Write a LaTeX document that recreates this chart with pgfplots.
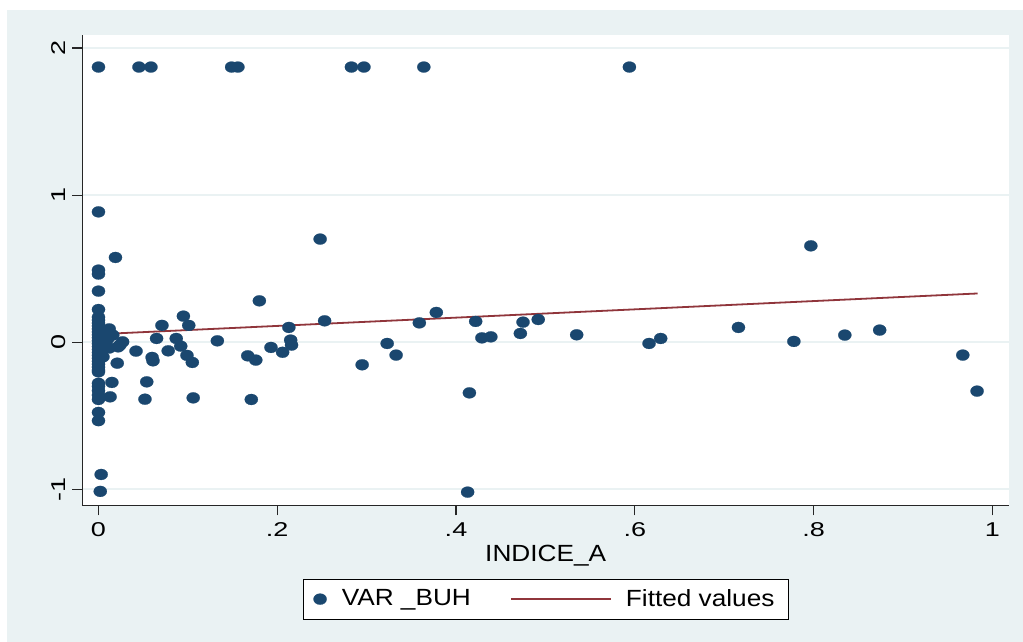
\documentclass[border=0pt]{standalone}
\usepackage{fontspec}
\setmainfont{Liberation Sans}[FakeStretch=1.12]
\newfontfamily\tickfont{Liberation Sans}[FakeStretch=1.35]
\usepackage{pgfplots}
\usepackage{pgfplotstable}
\pgfplotsset{compat=1.18}
\definecolor{bgc}{HTML}{EAF2F3}
\definecolor{navy}{HTML}{1A476F}
\definecolor{maroon}{HTML}{90353B}
\pgfplotsset{
  dotlegend/.style={legend image code/.code={\path[draw=none] (0pt,0pt) -- (19.35pt,0pt); \draw[mark repeat=2,mark phase=2,#1] plot coordinates {(0pt,0pt) (8.5pt,0pt) (19.35pt,0pt)};}},
  linelegend/.style={legend image code/.code={\path[draw=none] (0pt,0pt) -- (77.5pt,0pt); \draw[#1] (20.15pt,0pt) -- (70pt,0pt);}},
}
\pgfplotstableread{
x y
0 1.871
0.0453 1.871
0.0587 1.871
0.149 1.871
0.156 1.871
0.283 1.871
0.297 1.871
0.364 1.871
0.594 1.871
0 0.886
0.019 0.576
0 0.490
0 0.463
0 0.347
0 0.222
0 0.17
0 0.15
0 0.13
0 0.11
0 0.09
0 0.07
0 0.05
0 0.03
0 0.01
0 -0.01
0 -0.03
0 -0.05
0 -0.07
0 -0.09
0 -0.11
0 -0.13
0 -0.15
0 -0.17
0 -0.19
0.005 0.08
0.012 0.09
0.008 0.05
0.012 0.04
0.010 0.02
0.006 -0.02
0.012 -0.04
0.005 -0.10
0.016 0.048
0.027 0.002
0.024 -0.020
0.022 -0.032
0.021 -0.143
0.042 -0.061
0.065 0.025
0.071 0.114
0.060 -0.104
0.061 -0.127
0.078 -0.059
0.087 0.025
0.092 -0.027
0.095 0.177
0.101 0.114
0.099 -0.090
0.105 -0.138
0.133 0.009
0.180 0.281
0.167 -0.093
0.176 -0.122
0.193 -0.036
0.206 -0.069
0.213 0.100
0.215 0.014
0.216 -0.020
0.248 0.701
0.253 0.145
0.295 -0.154
0.323 -0.009
0.333 -0.088
0.359 0.131
0.378 0.202
0.415 -0.345
0.422 0.141
0.429 0.029
0.439 0.036
0.472 0.059
0.475 0.136
0.492 0.154
0.535 0.050
0.413 -1.020
0.616 -0.009
0.629 0.025
0.716 0.100
0.778 0.005
0.797 0.655
0.835 0.048
0.874 0.082
0.967 -0.088
0.983 -0.333
0 -0.202
0 -0.28
0 -0.30
0 -0.33
0 -0.36
0 -0.39
0 -0.478
0 -0.534
0.003 -0.90
0.002 -1.015
0.015 -0.274
0.054 -0.270
0.013 -0.372
0.052 -0.388
0.106 -0.379
0.171 -0.390
}\scatterdata
\begin{document}
\begin{tikzpicture}[x=0.5pt,y=0.5pt]
\useasboundingbox (0,0) rectangle (1023,642);
\fill[white] (0,0) rectangle (1023,642);
\fill[bgc] (7,0) rectangle (1023,632);
\begin{axis}[
  at={(41.15pt,68.25pt)}, anchor=south west,
  scale only axis, width=463.35pt, height=235.25pt,
  xmin=-0.0181, xmax=1.0187, ymin=-1.111, ymax=2.089,
  axis x line*=bottom, axis y line*=left,
  axis background/.style={fill=white},
  tick align=outside, major tick length=5pt,
  xtick={0,0.2,0.4,0.6,0.8,1}, xticklabels={0,.2,.4,.6,.8,1},
  ytick={-1,0,1,2}, yticklabels={-1,0,1,2},
  minor tick num=0,
  ymajorgrids, major grid style={bgc, line width=1pt},
  axis line style={line width=0.6pt, black!85},
  tick style={line width=0.6pt, black!85},
  /pgf/number format/assume math mode=true,
  ticklabel style={font=\tickfont\fontsize{10}{12}\selectfont},
  yticklabel style={rotate=90, anchor=south},
  xlabel={INDICE\_A},
  xlabel style={font=\fontsize{11.7}{14}\selectfont, at={(axis description cs:0.5,-0.1194)}, anchor=base},
  legend columns=2,
  legend style={at={(axis description cs:0.5,-0.199)}, anchor=center,
    draw=black, line width=0.5pt, fill=white, inner xsep=0pt, inner ysep=5pt,
    font=\fontsize{11.7}{14}\selectfont, cells={anchor=west}, nodes={inner sep=0pt}},
]
\addplot[only marks, mark=*, mark size=2.75pt, mark options={fill=navy, draw=navy, line width=0.1pt, xscale=1.2}, dotlegend]
  table[x=x,y=y]{\scatterdata};
\addlegendentry{VAR \_BUH}
\addplot[maroon, line width=0.9pt, linelegend]
  coordinates {(0,0.054) (0.9835,0.331)};
\addlegendentry{Fitted values\hspace*{6.85pt}}
\end{axis}
\end{tikzpicture}
\end{document}
